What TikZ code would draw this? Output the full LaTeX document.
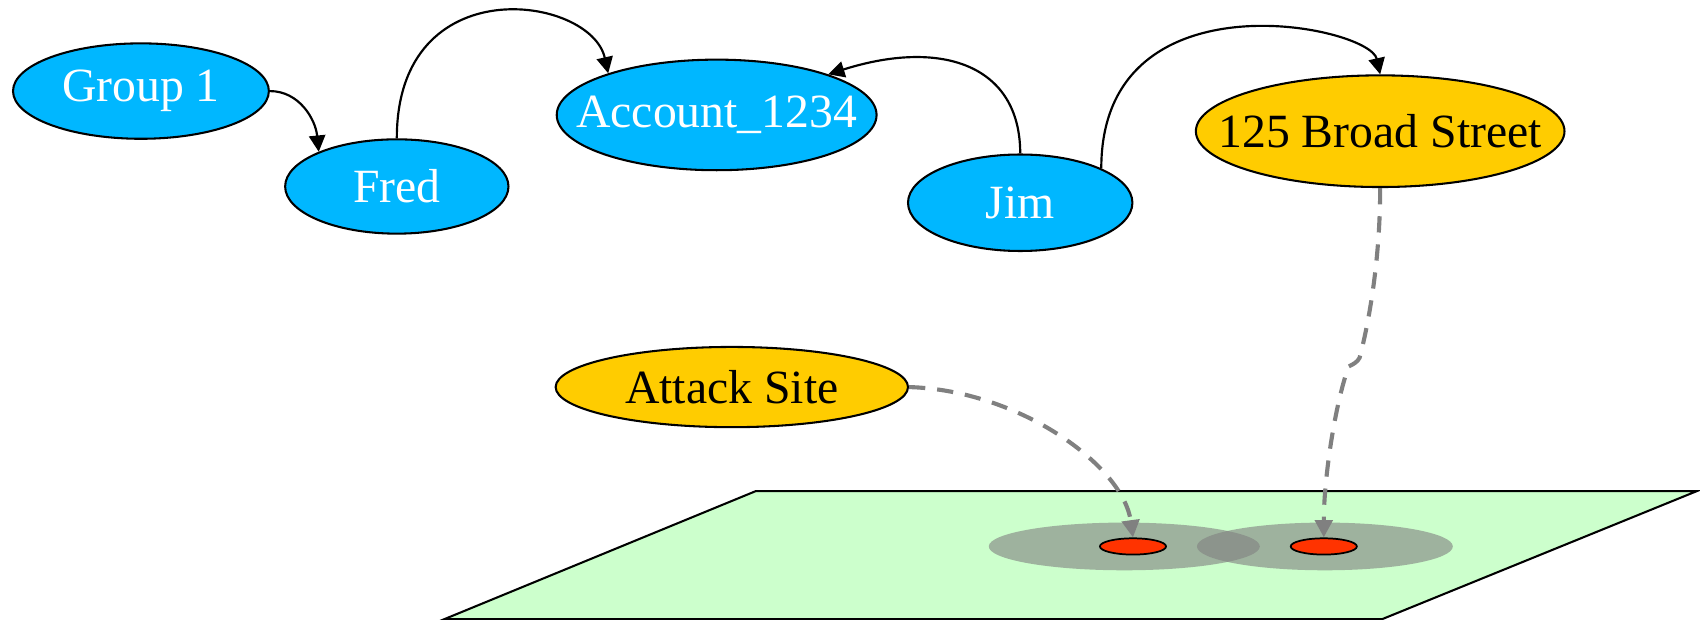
\documentclass[tikz,border=0pt]{standalone}
\usepackage{fontspec}
\setmainfont{Liberation Serif}
\usetikzlibrary{shapes.geometric,arrows.meta}

\definecolor{entblue}{RGB}{0,183,255}
\definecolor{placegold}{RGB}{255,204,0}
\definecolor{groundgreen}{RGB}{204,255,204}
\definecolor{sitered}{RGB}{255,51,0}
\definecolor{linkgray}{RGB}{128,128,128}

% zero-width label so the ellipse size comes from the given dimensions only
\newcommand{\nodetext}[1]{\makebox[0pt]{#1}}

\tikzset{
  entity/.style={ellipse, draw=black, line width=1.9pt, fill=entblue,
    text=white, inner sep=0pt, font=\fontsize{44}{50}\selectfont},
  place/.style={ellipse, draw=black, line width=1.9pt, fill=placegold,
    text=black, inner sep=0pt, font=\fontsize{44}{50}\selectfont},
  link/.style={line width=2pt, -{Triangle[length=15pt,width=15pt]}},
  geolink/.style={line width=3.8pt, draw=linkgray, dash pattern=on 15pt off 11pt,
    -{Triangle[length=16pt,width=16pt,fill=linkgray]}},
  halo/.style={ellipse, fill=linkgray, fill opacity=0.6, draw=none, inner sep=0pt},
  marker/.style={ellipse, draw=black, line width=1.6pt, fill=sitered, inner sep=0pt,
    minimum width=61pt, minimum height=15pt},
}

\begin{document}
\begin{tikzpicture}[x=1pt, y=-1pt]
\useasboundingbox (0,0) rectangle (1568,571);

% ground plane
\draw[line width=1.9pt, fill=groundgreen]
  (697,453) -- (1565,453) -- (1275,571) -- (410,571) -- cycle;

% uncertainty halos around the locations
\node[halo, minimum width=250pt, minimum height=44pt] (halo1) at (1037,504) {};
\node[halo, minimum width=236pt, minimum height=44pt] (halo2) at (1222,504) {};

% location markers
\node[marker] (red1) at (1045,504) {};
\node[marker] (red2) at (1221,504) {};

% entities
\node[entity, minimum width=236pt, minimum height=88pt] (g1) at (130,84) {\nodetext{Group 1}};
\node[entity, minimum width=206pt, minimum height=87pt] (fred) at (366,172) {\nodetext{Fred}};
\node[entity, minimum width=295pt, minimum height=102pt] (acct) at (661,106) {\nodetext{Account\_1234}};
\node[entity, minimum width=207pt, minimum height=89pt] (jim) at (941,187) {\nodetext{Jim}};
\node[place, minimum width=340pt, minimum height=103pt] (broad) at (1273,121) {\nodetext{125 Broad Street}};
\node[place, minimum width=325pt, minimum height=74pt] (attack) at (675,357) {\nodetext{Attack Site}};

% relations
\draw[link] (g1.east) .. controls +(27,0) and +(-3,-30) .. (fred.156);
\draw[link] (fred.north) .. controls +(0,-158) and +(-16,-72) .. (acct.159);
\draw[link] (jim.north) .. controls +(0,-82) and +(104,-33) .. (acct.20);
\draw[link] (jim.23) .. controls +(0,-182) and +(-10,-45) .. (broad.north);

% geographic links
\coordinate (bend) at (1254,330);
\draw[geolink] (broad.south) .. controls +(0,68) and +(8,-30) .. (bend)
  .. controls +(-2,4) and +(4,-2) .. ++(-10,8)
  .. controls +(-12,32) and +(0,-56) .. (red2.north);
\draw[geolink] (attack.east) .. controls +(102,3) and +(-9,-66) .. (red1.north);
\end{tikzpicture}
\end{document}
